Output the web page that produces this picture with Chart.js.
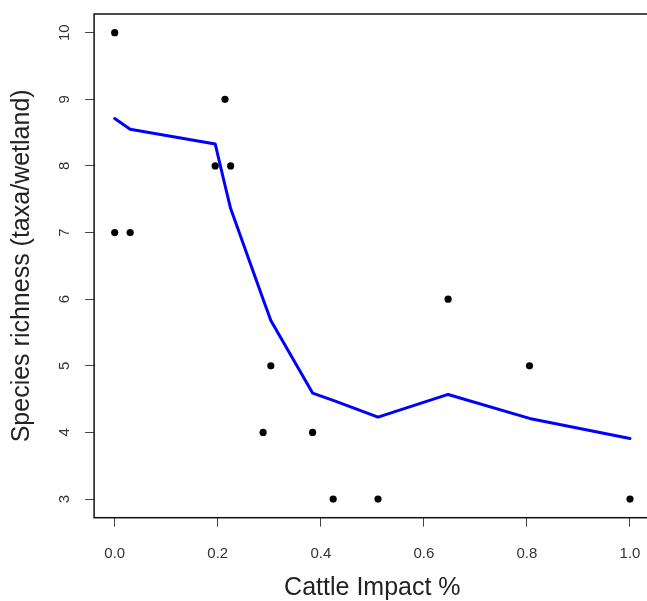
<!DOCTYPE html>
<html>
<head>
<meta charset="utf-8">
<title>Species richness vs cattle impact</title>
<script src="https://cdn.jsdelivr.net/npm/chart.js@4.4.1/dist/chart.umd.min.js"></script>
<style>
  html, body {
    margin: 0;
    padding: 0;
    background: #ffffff;
    overflow: hidden;
  }
  .chart-wrapper {
    position: relative;
    width: 660px;
    height: 601px;
  }
</style>
</head>
<body>
<div class="chart-wrapper">
  <canvas id="richnessChart"></canvas>
</div>
<script>
// observed wetlands: cattle impact (fraction) and taxa count
const impact   = [0, 0, 0.03, 0.195, 0.214, 0.225, 0.288, 0.303, 0.384, 0.424, 0.511, 0.647, 0.805, 1.0];
const richness = [10, 7, 7, 8, 9, 8, 4, 5, 4, 3, 3, 6, 5, 3];

// smoothed trend evaluated at the observed impact values
const fitImpact   = [0, 0.03, 0.195, 0.214, 0.225, 0.288, 0.303, 0.384, 0.424, 0.511, 0.647, 0.805, 1.0];
const fitRichness = [8.71, 8.55, 8.33, 7.71, 7.36, 6.0, 5.68, 4.59, 4.48, 4.23, 4.57, 4.21, 3.91];

const xTicks = [0, 0.2, 0.4, 0.6, 0.8, 1.0];
const yTicks = [3, 4, 5, 6, 7, 8, 9, 10];

const FONT = '"Liberation Sans", Arial, sans-serif';

const toXY = (xs, ys) => xs.map((x, i) => ({ x: x, y: ys[i] }));

// R-style box around the plotting region plus rotated y tick labels
const frameAndLabels = {
  id: 'frameAndLabels',
  afterDraw(chart) {
    const { ctx, chartArea } = chart;
    ctx.save();
    ctx.strokeStyle = '#111';
    ctx.lineWidth = 1.5;
    ctx.strokeRect(chartArea.left, chartArea.top,
      chartArea.right - chartArea.left, chartArea.bottom - chartArea.top);

    const yScale = chart.scales.y;
    ctx.fillStyle = '#333';
    ctx.font = '15px ' + FONT;
    ctx.textAlign = 'center';
    ctx.textBaseline = 'middle';
    yScale.ticks.forEach(t => {
      const py = yScale.getPixelForValue(t.value);
      ctx.save();
      ctx.translate(65, py);
      ctx.rotate(-Math.PI / 2);
      ctx.fillText(String(t.value), 0, 0);
      ctx.restore();
    });
    ctx.restore();
  }
};

const ctx = document.getElementById('richnessChart').getContext('2d');
new Chart(ctx, {
  type: 'scatter',
  data: {
    datasets: [
      {
        label: 'Trend',
        data: toXY(fitImpact, fitRichness),
        showLine: true,
        borderColor: '#0000ff',
        borderWidth: 3,
        borderCapStyle: 'round',
        borderJoinStyle: 'round',
        pointRadius: 0,
        tension: 0,
        order: 0
      },
      {
        label: 'Wetlands',
        data: toXY(impact, richness),
        backgroundColor: '#000',
        borderColor: '#000',
        pointRadius: 3.6,
        pointBorderWidth: 0,
        order: 1
      }
    ]
  },
  options: {
    responsive: true,
    maintainAspectRatio: false,
    animation: false,
    layout: { padding: { top: 14, right: 9.4, left: 0, bottom: 0 } },
    plugins: {
      legend: { display: false },
      tooltip: { enabled: false }
    },
    scales: {
      x: {
        type: 'linear',
        min: -0.04,
        max: 1.04,
        afterBuildTicks: scale => { scale.ticks = xTicks.map(v => ({ value: v })); },
        afterFit: scale => { scale.height = 83.3; },
        border: { display: false },
        grid: { drawOnChartArea: false, drawTicks: true, tickLength: 9, tickColor: '#444', tickWidth: 1 },
        ticks: {
          color: '#333',
          font: { family: FONT, size: 15 },
          padding: 18,
          maxRotation: 0,
          callback: v => Number(v).toFixed(1)
        },
        title: {
          display: true,
          text: 'Cattle Impact %',
          color: '#222',
          font: { family: FONT, size: 25, lineHeight: 1 },
          padding: { top: 0, bottom: 0 }
        }
      },
      y: {
        type: 'linear',
        min: 2.72,
        max: 10.28,
        afterBuildTicks: scale => { scale.ticks = yTicks.map(v => ({ value: v })); },
        afterFit: scale => { scale.width = 94.1; },
        border: { display: false },
        grid: { drawOnChartArea: false, drawTicks: true, tickLength: 9, tickColor: '#444', tickWidth: 1 },
        ticks: {
          display: false
        },
        title: {
          display: true,
          text: 'Species richness (taxa/wetland)',
          color: '#222',
          font: { family: FONT, size: 25, lineHeight: 1 },
          padding: { top: 9.5, bottom: 0 }
        }
      }
    }
  },
  plugins: [frameAndLabels]
});
</script>
</body>
</html>
